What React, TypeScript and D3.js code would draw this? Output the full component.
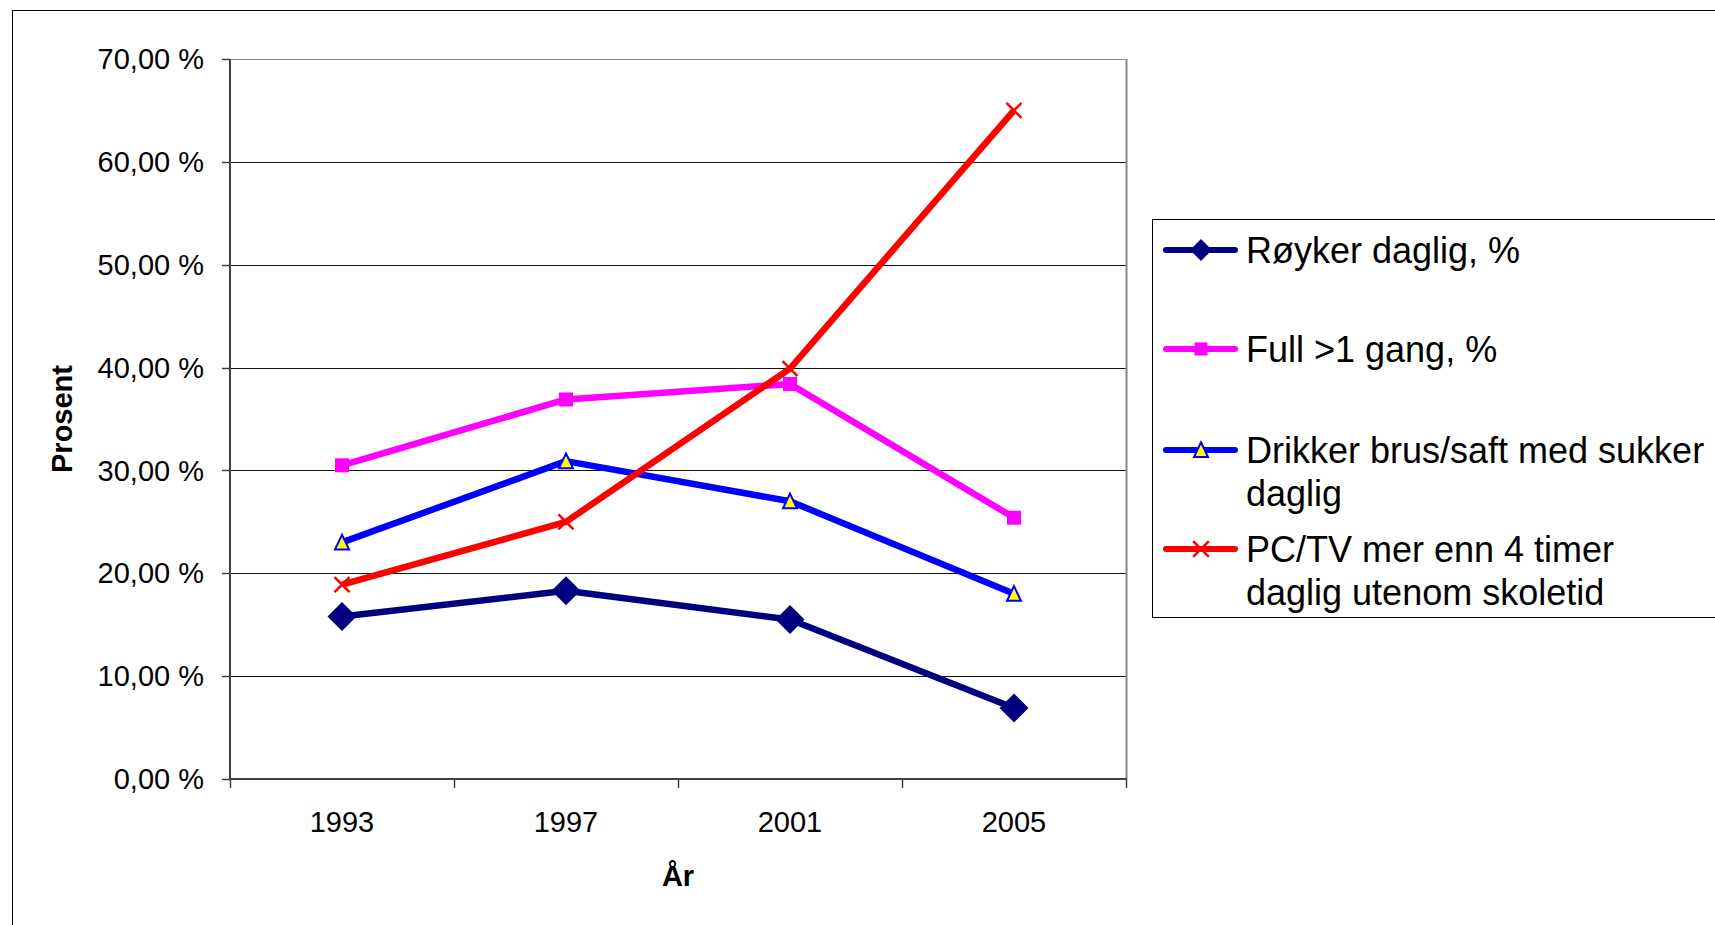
import React, { useEffect, useRef } from 'react';
import * as d3 from 'd3';

// data
const years = ['1993', '1997', '2001', '2005'];
const royker = [15.8, 18.3, 15.5, 6.9];
const full = [30.5, 36.9, 38.4, 25.4];
const drikker = [23.0, 30.9, 27.0, 18.0];
const pcTv = [18.9, 25.0, 39.9, 65.0];
const yTicks = [0, 10, 20, 30, 40, 50, 60, 70];

const seriesList = [
  { name: ['Røyker daglig, %'], values: royker, color: '#000080', marker: 'diamond' },
  { name: ['Full >1 gang, %'], values: full, color: '#FF00FF', marker: 'square' },
  { name: ['Drikker brus/saft med sukker', 'daglig'], values: drikker, color: '#0000FF', marker: 'triangle' },
  { name: ['PC/TV mer enn 4 timer', 'daglig utenom skoletid'], values: pcTv, color: '#FF0000', marker: 'cross' },
];

const FONT = 'Arial, "Liberation Sans", sans-serif';

const App: React.FC = () => {
  const svgRef = useRef<SVGSVGElement>(null);

  useEffect(() => {
    const width = 1715;
    const height = 925;
    d3.select(svgRef.current).selectAll('*').remove();

    const svg = d3.select(svgRef.current)
      .attr('width', width)
      .attr('height', height);

    svg.append('rect').attr('width', width).attr('height', height).attr('fill', '#fff');

    // outer chart border (runs off the right and bottom)
    svg.append('rect')
      .attr('x', 12.5).attr('y', 10.5)
      .attr('width', width + 20).attr('height', height + 20)
      .attr('fill', 'none').attr('stroke', '#000').attr('stroke-width', 1);

    const plot = { left: 230, right: 1126, top: 59, bottom: 779 };

    const x = d3.scaleBand<string>().domain(years).range([plot.left, plot.right]);
    const y = d3.scaleLinear().domain([0, 70]).range([plot.bottom, plot.top]);
    const xc = (yr: string) => (x(yr) || 0) + x.bandwidth() / 2;

    // gridlines
    svg.append('g')
      .selectAll('line')
      .data(yTicks.filter(t => t > 0))
      .enter()
      .append('line')
      .attr('x1', plot.left).attr('x2', plot.right)
      .attr('y1', d => Math.round(y(d)) + 0.5).attr('y2', d => Math.round(y(d)) + 0.5)
      .attr('stroke', d => d === 70 ? '#888' : '#111')
      .attr('stroke-width', 1.2);

    // plot area border
    svg.append('line')
      .attr('x1', plot.right + 0.5).attr('x2', plot.right + 0.5)
      .attr('y1', plot.top).attr('y2', plot.bottom)
      .attr('stroke', '#888').attr('stroke-width', 2);

    // y axis
    const yAxis = svg.append('g');
    yAxis.append('line')
      .attr('x1', plot.left).attr('x2', plot.left)
      .attr('y1', plot.top).attr('y2', plot.bottom + 1)
      .attr('stroke', '#404040').attr('stroke-width', 2);
    yAxis.selectAll('.tick')
      .data(yTicks)
      .enter()
      .append('line')
      .attr('x1', plot.left - 8).attr('x2', plot.left)
      .attr('y1', d => Math.round(y(d)) + 0.5).attr('y2', d => Math.round(y(d)) + 0.5)
      .attr('stroke', '#404040').attr('stroke-width', 1.5);
    yAxis.selectAll('text')
      .data(yTicks)
      .enter()
      .append('text')
      .attr('x', 204)
      .attr('y', d => y(d))
      .attr('dy', '0.35em')
      .attr('text-anchor', 'end')
      .attr('font-family', FONT)
      .attr('font-size', 29)
      .attr('fill', '#000')
      .text(d => d3.format('.2f')(d).replace('.', ',') + ' %');

    // x axis
    const xAxis = svg.append('g');
    xAxis.append('line')
      .attr('x1', plot.left - 1).attr('x2', plot.right + 1)
      .attr('y1', plot.bottom).attr('y2', plot.bottom)
      .attr('stroke', '#404040').attr('stroke-width', 2);
    const bounds = years.map(yr => x(yr) || 0).concat([plot.right]);
    xAxis.selectAll('.tick')
      .data(bounds)
      .enter()
      .append('line')
      .attr('x1', d => Math.round(d) + 0.5).attr('x2', d => Math.round(d) + 0.5)
      .attr('y1', plot.bottom).attr('y2', plot.bottom + 9)
      .attr('stroke', '#404040').attr('stroke-width', 1.5);
    xAxis.selectAll('text')
      .data(years)
      .enter()
      .append('text')
      .attr('x', d => xc(d))
      .attr('y', 832)
      .attr('text-anchor', 'middle')
      .attr('font-family', FONT)
      .attr('font-size', 29)
      .attr('fill', '#000')
      .text(d => d);

    // axis titles
    svg.append('text')
      .attr('x', 678).attr('y', 886)
      .attr('text-anchor', 'middle')
      .attr('font-family', FONT)
      .attr('font-size', 29)
      .attr('font-weight', 'bold')
      .text('År');
    svg.append('text')
      .attr('transform', `translate(72,419) rotate(-90)`)
      .attr('text-anchor', 'middle')
      .attr('font-family', FONT)
      .attr('font-size', 29)
      .attr('font-weight', 'bold')
      .text('Prosent');

    const drawMarker = (g: d3.Selection<SVGGElement, unknown, null, undefined>, kind: string, color: string, scale: number) => {
      if (kind === 'diamond') {
        const r = 14.5 * scale;
        g.append('path').attr('d', `M0,${-r}L${r},0L0,${r}L${-r},0Z`).attr('fill', color);
      } else if (kind === 'square') {
        const s = 14 * scale;
        g.append('rect').attr('x', -s / 2).attr('y', -s / 2).attr('width', s).attr('height', s).attr('fill', color);
      } else if (kind === 'triangle') {
        const s = 7 * scale;
        g.append('path')
          .attr('d', `M0,${-s * 1.1}L${s},${s}L${-s},${s}Z`)
          .attr('fill', '#FFFF00').attr('stroke', color).attr('stroke-width', 2);
      } else if (kind === 'cross') {
        const s = 7.5 * scale;
        g.append('path')
          .attr('d', `M${-s},${-s}L${s},${s}M${s},${-s}L${-s},${s}`)
          .attr('stroke', color).attr('stroke-width', 2.5).attr('fill', 'none');
      }
    };

    const line = d3.line<number>()
      .x((_, i) => xc(years[i]))
      .y(d => y(d));

    seriesList.forEach(s => {
      svg.append('path')
        .datum(s.values)
        .attr('d', line)
        .attr('fill', 'none')
        .attr('stroke', s.color)
        .attr('stroke-width', 6.5)
        .attr('stroke-linejoin', 'round');
      s.values.forEach((v, i) => {
        const g = svg.append('g').attr('transform', `translate(${xc(years[i])},${y(v)})`);
        drawMarker(g, s.marker, s.color, 1);
      });
    });

    // legend
    const legend = svg.append('g');
    legend.append('rect')
      .attr('x', 1152.5).attr('y', 219.5)
      .attr('width', 700).attr('height', 398)
      .attr('fill', '#fff').attr('stroke', '#000').attr('stroke-width', 1);
    const rowY = [250, 349, 450, 549];
    const legendScale = [0.76, 0.93, 1, 1.05];
    seriesList.forEach((s, i) => {
      const g = legend.append('g').attr('transform', `translate(0,${rowY[i]})`);
      g.append('line')
        .attr('x1', 1166).attr('x2', 1235)
        .attr('y1', 0).attr('y2', 0)
        .attr('stroke', s.color).attr('stroke-width', 6).attr('stroke-linecap', 'round');
      const m = g.append('g').attr('transform', 'translate(1201,0)');
      drawMarker(m, s.marker, s.color, legendScale[i]);
      s.name.forEach((t, j) => {
        g.append('text')
          .attr('x', 1246)
          .attr('y', 13 + j * 43)
          .attr('font-family', FONT)
          .attr('font-size', 36)
          .attr('fill', '#000')
          .text(t);
      });
    });
  }, []);

  return (
    <div style={{ position: 'fixed', left: 0, top: 0, width: 1715, height: 925, overflow: 'hidden' }}>
      <svg ref={svgRef} style={{ display: 'block' }} />
    </div>
  );
};

export default App;
